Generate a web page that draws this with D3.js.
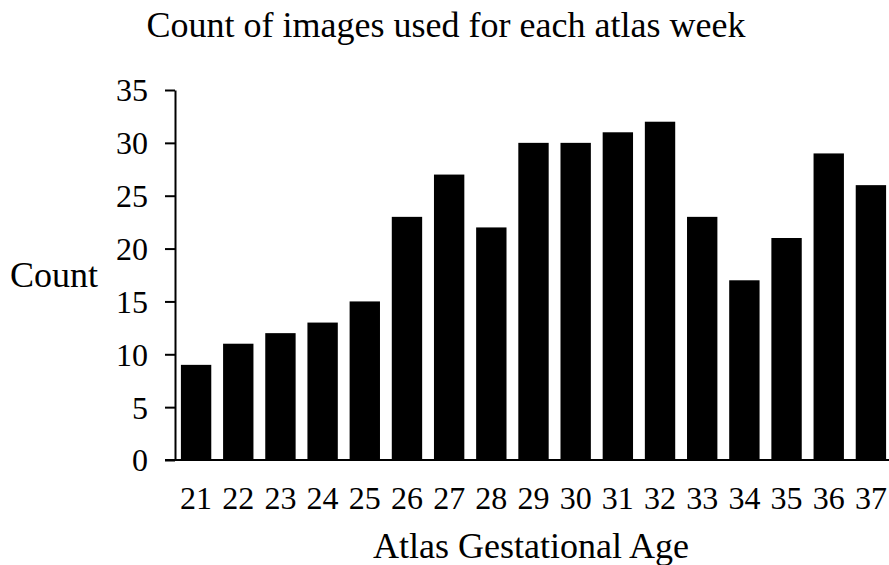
<!DOCTYPE html>
<html>
<head>
<meta charset="utf-8">
<script src="https://cdn.jsdelivr.net/npm/d3@7"></script>
<style>
  body { margin: 0; background: #fff; }
  svg text { font-family: "Liberation Serif", "Times New Roman", serif; fill: #000; }
</style>
</head>
<body>
<div id="chart"></div>
<script>
const weeks = ["21", "22", "23", "24", "25", "26", "27", "28", "29", "30", "31", "32", "33", "34", "35", "36", "37"];
const counts = [9, 11, 12, 13, 15, 23, 27, 22, 30, 30, 31, 32, 23, 17, 21, 29, 26];
const yTicks = [0, 5, 10, 15, 20, 25, 30, 35];

const width = 889, height = 565;
const plotLeft = 175, plotRight = 892, plotTop = 90, plotBottom = 460;

const svg = d3.select("#chart")
  .append("svg")
  .attr("width", width)
  .attr("height", height);

const x = d3.scaleBand()
  .domain(weeks)
  .range([plotLeft, plotRight])
  .paddingInner(0.28)
  .paddingOuter(0.14);

const y = d3.scaleLinear()
  .domain([0, 35])
  .range([plotBottom, plotTop]);

// bars
svg.append("g")
  .selectAll("rect")
  .data(weeks)
  .join("rect")
  .attr("x", d => x(d))
  .attr("width", x.bandwidth())
  .attr("y", (d, i) => y(counts[i]))
  .attr("height", (d, i) => y(0) - y(counts[i]))
  .attr("fill", "#000");

// y axis
const yAxis = svg.append("g")
  .attr("transform", `translate(${plotLeft},0)`)
  .call(d3.axisLeft(y).tickValues(yTicks).tickSize(10).tickPadding(17).tickSizeOuter(0));
yAxis.select(".domain").attr("stroke-width", 2);
yAxis.selectAll(".tick line").attr("stroke-width", 2);
yAxis.selectAll("text").style("font-size", "32px").attr("dy", "0.34em");

// x axis line
svg.append("line")
  .attr("x1", plotLeft - 10)
  .attr("x2", width)
  .attr("y1", y(0))
  .attr("y2", y(0))
  .attr("stroke", "#000")
  .attr("stroke-width", 2);

// x tick labels
svg.append("g")
  .selectAll("text")
  .data(weeks)
  .join("text")
  .attr("x", d => x(d) + x.bandwidth() / 2)
  .attr("y", 509)
  .attr("text-anchor", "middle")
  .style("font-size", "32px")
  .text(d => d);

svg.append("text")
  .attr("x", 446)
  .attr("y", 37)
  .attr("text-anchor", "middle")
  .style("font-size", "36px")
  .text("Count of images used for each atlas week");

svg.append("text")
  .attr("x", 10)
  .attr("y", 287)
  .style("font-size", "36px")
  .text("Count");

svg.append("text")
  .attr("x", 531)
  .attr("y", 558)
  .attr("text-anchor", "middle")
  .style("font-size", "36px")
  .text("Atlas Gestational Age");
</script>
</body>
</html>
